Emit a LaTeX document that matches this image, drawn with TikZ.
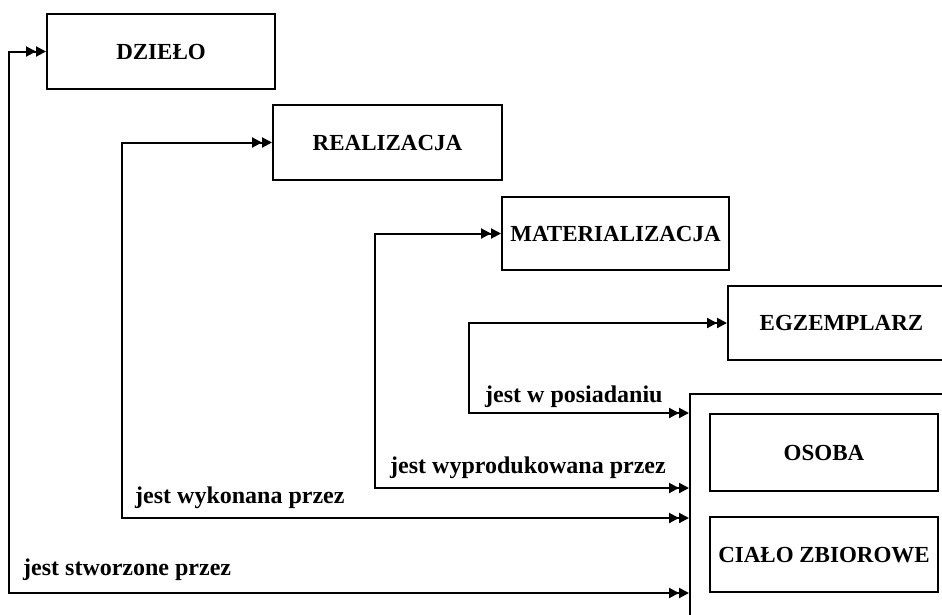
\documentclass[tikz,border=0pt]{standalone}
\usepackage{fontspec}
\setmainfont{Liberation Serif}
\usetikzlibrary{arrows.meta}
\begin{document}
\begin{tikzpicture}[x=1pt,y=-1pt,
  dtri/.tip={Triangle[length=10pt,width=10pt]Triangle[length=10pt,width=10pt]},
  box/.style={draw, line width=2pt, inner sep=0pt,
    font=\fontsize{23}{27}\selectfont\bfseries, text height=15pt, text depth=0pt},
  lbl/.style={anchor=base west, inner sep=0pt, font=\fontsize{24}{28}\selectfont\bfseries},
  conn/.style={line width=2pt, dtri-dtri}]
\useasboundingbox (0,0) rectangle (942,614);

% group container
\node[draw, line width=2pt, minimum width=290pt, minimum height=260pt,
  anchor=north west, inner sep=0pt] (grp) at (689,393) {};

% entity boxes
\node[box, minimum width=228pt, minimum height=75pt] (dz) at (161,51.5) {DZIEŁO};
\node[box, minimum width=229pt, minimum height=75pt] (re) at (387.5,142.5) {REALIZACJA};
\node[box, minimum width=227pt, minimum height=73pt] (ma) at (615.5,233.5) {MATERIALIZACJA};
\node[box, minimum width=227pt, minimum height=74pt] (eg) at (841.5,323) {EGZEMPLARZ};
\node[box, minimum width=228pt, minimum height=77pt] (os) at (824,452.5) {OSOBA};
\node[box, minimum width=228pt, minimum height=75pt] (cz) at (824,554.5) {CIAŁO ZBIOROWE};

% levels of the connector ends
\coordinate (ya) at (0,593);
\coordinate (yb) at (0,518);
\coordinate (yc) at (0,488);
\coordinate (yd) at (0,413);

\draw[conn] (dz.west) -- ++(-37,0) |- (grp.west |- ya);
\draw[conn] (re.west) -- ++(-150,0) |- (grp.west |- yb);
\draw[conn] (ma.west) -- ++(-126,0) |- (grp.west |- yc);
\draw[conn] (eg.west) -- ++(-258,0) |- (grp.west |- yd);

% relation labels
\node[lbl] (l1) at (23,575) {jest stworzone przez};
\node[lbl] (l2) at (135,503) {jest wykonana przez};
\node[lbl] (l3) at (390,473) {jest wyprodukowana przez};
\node[lbl] (l4) at (485,402) {jest w posiadaniu};
\end{tikzpicture}
\end{document}
